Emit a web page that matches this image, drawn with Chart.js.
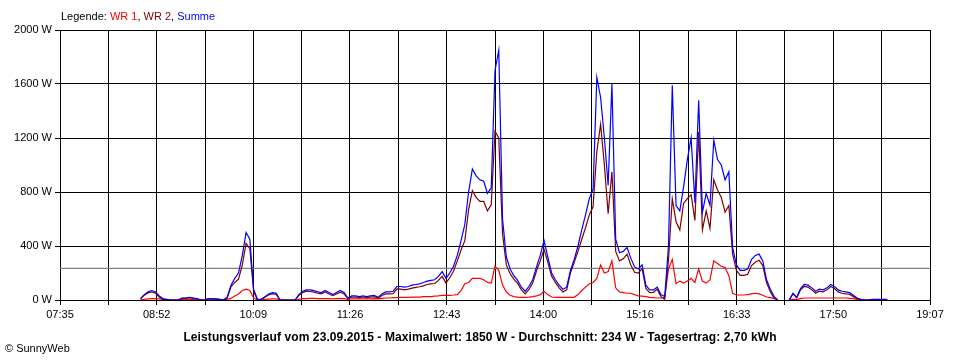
<!DOCTYPE html>
<html>
<head>
<meta charset="utf-8">
<script src="https://cdn.jsdelivr.net/npm/chart.js@4"></script>
<style>
  body { margin: 0; background: #fff; font-family: "Liberation Sans", Arial, sans-serif; color: #000; }
  #wrap { position: relative; width: 960px; height: 360px; }
  #legend { position: absolute; left: 61px; top: 10px; font-size: 11px; }
  #title { position: absolute; left: 0; width: 960px; top: 330px; text-align: center; font-size: 12px; font-weight: bold; letter-spacing: 0.1px; }
  #copy { position: absolute; left: 5px; top: 342px; font-size: 11px; }
</style>
</head>
<body>
<div id="wrap">
  <canvas id="chart" width="960" height="360"></canvas>
  <div id="legend">Legende: <span style="color:#ff0000">WR 1</span>, <span style="color:#800000">WR 2</span>, <span style="color:#0000ff">Summe</span></div>
  <div id="title">Leistungsverlauf vom 23.09.2015 - Maximalwert: 1850 W - Durchschnitt: 234 W - Tagesertrag: 2,70 kWh</div>
  <div id="copy">&copy; SunnyWeb</div>
</div>
<script>
// x axis: minutes since midnight, 07:35 .. 19:07
const axisStart = 455, axisEnd = 1147;
const tickLabels = ["07:35", "08:52", "10:09", "11:26", "12:43", "14:00", "15:16", "16:33", "17:50", "19:07"];
const yTicks = [0, 400, 800, 1200, 1600, 2000];
const average = 234;

// samples every 3 minutes from 08:36
const startMin = 516, stepMin = 3;

const wr1 = [
  null,2,5,8,10,10,8,5,2,0,
  0,0,3,3,3,3,2,0,0,2,
  2,2,1,0,5,12,30,45,70,80,
  70,15,2,2,5,7,8,8,0,0,
  0,0,0,5,10,10,12,12,10,10,
  10,10,8,10,12,10,5,8,8,8,
  8,8,8,10,8,12,15,15,18,18,
  20,20,20,22,22,22,25,25,25,28,
  30,35,35,35,37,40,70,120,130,160,
  160,160,150,130,125,250,220,110,60,35,
  25,22,20,20,22,25,30,40,65,40,
  22,20,20,20,20,20,20,40,70,95,
  120,130,160,260,200,210,290,90,60,55,
  50,50,40,30,28,25,20,18,15,15,
  20,230,300,120,140,125,140,160,130,230,
  140,125,150,290,270,250,240,180,50,37,
  37,37,40,45,50,45,35,22,18,12,
  0,null,null,0,5,3,10,15,15,15,
  15,15,15,15,15,15,15,15,15,12,
  10,5,2,0,0,0,0,0,0,0
];

const wr2 = [
  null,8,35,52,60,50,22,5,3,0,
  0,0,12,12,17,12,8,0,0,8,
  8,6,4,0,15,98,130,155,260,420,
  380,65,3,3,20,38,47,42,0,0,
  0,0,0,35,55,65,63,58,50,45,
  60,45,32,45,58,45,10,22,22,17,
  22,17,22,25,12,33,45,45,47,82,
  80,75,80,88,93,98,105,115,120,122,
  145,175,125,165,213,290,370,440,670,810,
  760,730,730,660,705,1250,1200,490,260,195,
  155,123,75,45,78,125,215,290,375,280,
  178,130,90,60,75,200,280,360,450,535,
  630,690,1100,1300,1000,640,950,360,290,305,
  340,260,205,200,232,85,55,57,80,25,
  5,300,750,580,520,715,750,780,590,1245,
  520,660,530,890,815,760,650,700,340,220,
  183,183,190,255,280,295,255,128,62,13,
  0,null,null,0,45,17,75,100,95,75,
  50,65,60,75,100,85,60,50,45,43,
  25,10,3,0,0,3,3,3,3,3
];

const summe = [
  null,10,40,60,70,60,30,10,5,0,
  0,0,15,15,20,15,10,0,0,10,
  10,8,5,0,20,110,160,200,330,500,
  450,80,5,5,25,45,55,50,0,0,
  0,0,0,40,65,75,75,70,60,55,
  70,55,40,55,70,55,15,30,30,25,
  30,25,30,35,20,45,60,60,65,100,
  100,95,100,110,115,120,130,140,145,150,
  175,210,160,200,250,330,440,560,800,970,
  920,890,880,790,830,1700,1850,600,320,230,
  180,145,95,65,100,150,245,330,440,320,
  200,150,110,80,95,220,300,400,520,630,
  750,820,1650,1500,1200,850,1600,450,350,360,
  390,310,245,230,260,110,75,75,95,40,
  25,400,1590,700,660,840,1040,1200,720,1480,
  650,790,700,1185,1040,1000,890,950,390,260,
  220,220,230,300,330,340,290,150,80,25,
  0,null,null,0,50,20,85,115,110,90,
  65,80,75,90,115,100,75,65,60,55,
  35,15,5,0,0,5,5,5,5,5
];

const times = summe.map((_, i) => startMin + i * stepMin);
const pts = arr => arr.map((v, i) => ({ x: times[i], y: v }));

const fontFamily = '"Liberation Sans", Arial, sans-serif';

new Chart(document.getElementById("chart"), {
  type: "line",
  data: {
    datasets: [
      { data: pts(summe), borderColor: "#0000ff", order: 1 },
      { data: pts(wr2), borderColor: "#800000", order: 2 },
      { data: pts(wr1), borderColor: "#ff0000", order: 3 },
      { data: [{ x: axisStart, y: average }, { x: axisEnd, y: average }], borderColor: "#808080", order: 4 }
    ]
  },
  options: {
    responsive: false,
    animation: false,
    layout: { padding: { left: 0, right: 30, top: 30, bottom: 0 } },
    plugins: { legend: { display: false }, tooltip: { enabled: false } },
    elements: {
      point: { radius: 0 },
      line: { borderWidth: 1.2, tension: 0, fill: false }
    },
    scales: {
      x: {
        type: "linear",
        min: axisStart,
        max: axisEnd,
        afterBuildTicks: s => {
          s.ticks = [];
          for (let i = 0; i <= 18; i++) s.ticks.push({ value: axisStart + i * (axisEnd - axisStart) / 18 });
        },
        afterFit: s => { s.height = 60; },
        grid: { color: "#000", lineWidth: 1, tickLength: 5 },
        border: { color: "#000" },
        ticks: {
          autoSkip: false, maxRotation: 0, padding: 3, color: "#000",
          font: { size: 11, family: fontFamily },
          callback: (v, i) => i % 2 === 0 ? tickLabels[i / 2] : ""
        }
      },
      y: {
        min: 0,
        max: 2000,
        afterBuildTicks: s => { s.ticks = yTicks.map(v => ({ value: v })); },
        afterFit: s => { s.width = 60; },
        grid: { color: "#000", lineWidth: 1, tickLength: 5 },
        border: { color: "#000" },
        ticks: {
          padding: 3, color: "#000",
          font: { size: 11, family: fontFamily },
          callback: v => v + " W"
        }
      }
    }
  }
});
</script>
</body>
</html>
